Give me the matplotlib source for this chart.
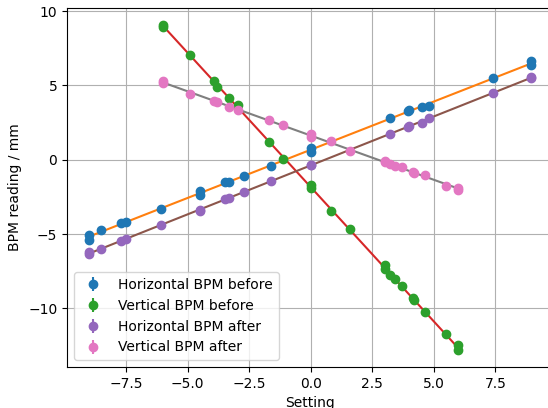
import numpy as np
import matplotlib
matplotlib.use("Agg")
import matplotlib.pyplot as plt

# Horizontal scan settings and readings
h_setting = [-9.0, -9.0, -8.5, -7.7, -7.5, -6.1, -4.5, -4.5, -3.5, -3.3, -2.72, -1.6,
             0.0, 0.0, 3.21, 3.95, 4.0, 4.52, 4.8, 7.39, 8.96, 8.96]
h_before = [-5.05, -5.4, -4.75, -4.24, -4.22, -3.33, -2.1, -2.35, -1.53, -1.52, -1.08, -0.4,
            0.5, 0.8, 2.82, 3.28, 3.38, 3.58, 3.65, 5.49, 6.35, 6.62]
h_after = [-6.33, -6.2, -5.99, -5.47, -5.36, -4.39, -3.35, -3.45, -2.65, -2.55, -2.14, -1.42,
           -0.36, -0.36, 1.74, 2.2, 2.28, 2.5, 2.8, 4.5, 5.52, 5.58]

# Vertical scan settings and readings
v_setting = [-6.0, -6.0, -4.9, -3.92, -3.81, -3.31, -2.96, -1.71, -1.12, 0.0, 0.0, 0.82,
             1.61, 3.0, 3.0, 3.21, 3.41, 3.7, 4.14, 4.2, 4.62, 5.5, 5.98, 5.98]
v_before = [9.1, 8.95, 7.07, 5.27, 4.93, 4.17, 3.69, 1.17, 0.05, -1.7, -1.9, -3.45,
            -4.68, -7.1, -7.35, -7.77, -8.0, -8.51, -9.3, -9.44, -10.27, -11.7, -12.5, -12.8]
v_after = [5.3, 5.15, 4.44, 3.96, 3.92, 3.53, 3.36, 2.68, 2.32, 1.75, 1.55, 1.28,
           0.61, -0.05, -0.15, -0.29, -0.41, -0.52, -0.85, -0.92, -1.03, -1.76, -1.9, -2.05]

series = [
    (h_setting, h_before, "Horizontal BPM before"),
    (v_setting, v_before, "Vertical BPM before"),
    (h_setting, h_after, "Horizontal BPM after"),
    (v_setting, v_after, "Vertical BPM after"),
]
yerr = 0.05

fig = plt.figure(figsize=(5.48, 4.08), dpi=100)
ax = fig.add_axes([0.1223, 0.1005, 0.8877, 0.8811])

for xs, ys, lab in series:
    xs = np.array(xs); ys = np.array(ys)
    ax.errorbar(xs, ys, yerr=yerr, fmt='o', label=lab, zorder=3)
    p = np.polyfit(xs, ys, 1)
    xx = np.array([xs.min(), xs.max()])
    ax.plot(xx, np.polyval(p, xx), zorder=2)

ax.grid(True)
ax.set_xlabel("Setting")
ax.set_ylabel("BPM reading / mm")
ax.legend(loc="lower left")
fig.savefig("out.png", dpi=100)
